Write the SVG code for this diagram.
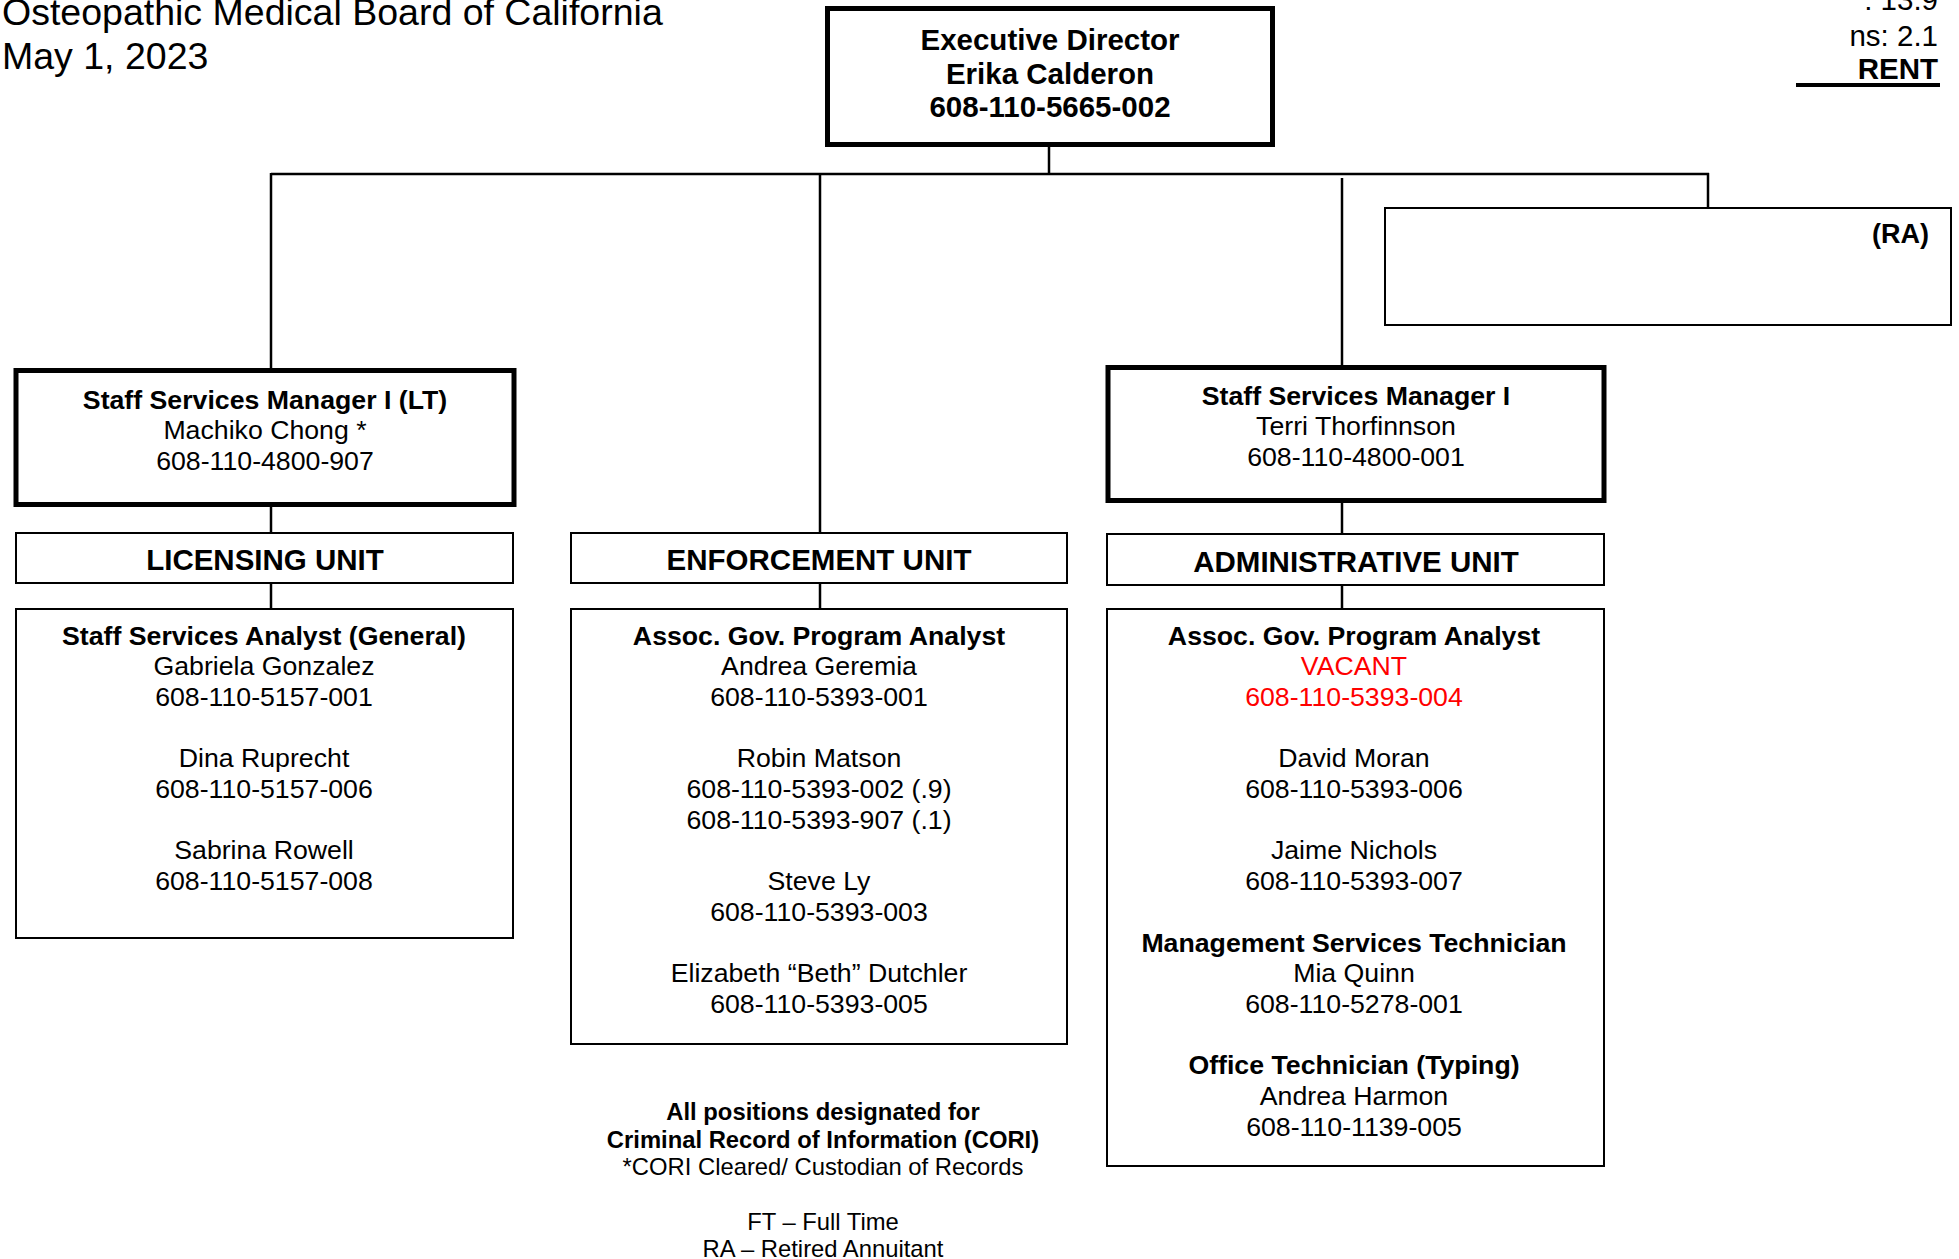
<svg xmlns="http://www.w3.org/2000/svg" width="1959" height="1259" viewBox="0 0 1959 1259">
<style>
text { font-family: "Liberation Sans", Arial, sans-serif; fill: #000; }
.b { font-weight: bold; }
.c { text-anchor: middle; }
.r { text-anchor: end; }
.red { fill: #ff0000; }
.thick { fill: #fff; stroke: #000; stroke-width: 5; }
.thin { fill: #fff; stroke: #000; stroke-width: 2; }
.f37 { font-size: 37.5px; }
.f29 { font-size: 29.5px; }
.f27 { font-size: 27px; }
.f26 { font-size: 26.7px; }
.f24 { font-size: 23.8px; }
#connectors line { stroke: #000; stroke-width: 2.5; }
</style>
<rect width="1959" height="1259" fill="#fff"/>

<g id="header">
  <text class="f37" x="2" y="25">Osteopathic Medical Board of California</text>
  <text class="f37" x="2" y="69">May 1, 2023</text>
  <text class="f29 r" x="1938" y="10">: 13.9</text>
  <text class="f29 r" x="1938" y="46">ns: 2.1</text>
  <text class="f29 b r" x="1938" y="79">RENT</text>
  <line x1="1796" y1="85" x2="1940" y2="85" stroke="#000" stroke-width="4"/>
</g>

<g id="connectors">
  <line x1="1049" y1="146" x2="1049" y2="175"/>
  <line x1="271" y1="174" x2="1709" y2="174"/>
  <line x1="271" y1="173" x2="271" y2="369"/>
  <line x1="820" y1="174" x2="820" y2="533"/>
  <line x1="1342" y1="178" x2="1342" y2="366"/>
  <line x1="1708" y1="173" x2="1708" y2="208"/>
  <line x1="271" y1="506" x2="271" y2="533"/>
  <line x1="271" y1="583" x2="271" y2="609"/>
  <line x1="820" y1="583" x2="820" y2="609"/>
  <line x1="1342" y1="502" x2="1342" y2="534"/>
  <line x1="1342" y1="585" x2="1342" y2="609"/>
</g>

<g id="executive-director">
  <rect class="thick" x="827.5" y="8.5" width="445" height="136"/>
  <text class="f29 b c" x="1050" y="50">Executive Director</text>
  <text class="f29 b c" x="1050" y="83.5">Erika Calderon</text>
  <text class="f29 b c" x="1050" y="116.5">608-110-5665-002</text>
</g>

<g id="ra-box">
  <rect class="thin" x="1385" y="208" width="566" height="117"/>
  <text class="f27 b r" x="1929" y="243">(RA)</text>
</g>

<g id="ssm-lt">
  <rect class="thick" x="16" y="370.5" width="498" height="134"/>
  <text class="f26 b c" x="265" y="408.5">Staff Services Manager I (LT)</text>
  <text class="f26 c" x="265" y="439">Machiko Chong *</text>
  <text class="f26 c" x="265" y="470">608-110-4800-907</text>
</g>

<g id="ssm-admin">
  <rect class="thick" x="1108" y="367.5" width="496" height="133"/>
  <text class="f26 b c" x="1356" y="404.5">Staff Services Manager I</text>
  <text class="f26 c" x="1356" y="435">Terri Thorfinnson</text>
  <text class="f26 c" x="1356" y="466">608-110-4800-001</text>
</g>

<g id="licensing-unit">
  <rect class="thin" x="16" y="533" width="497" height="50"/>
  <text class="f29 b c" x="265" y="570">LICENSING UNIT</text>
</g>

<g id="enforcement-unit">
  <rect class="thin" x="571" y="533" width="496" height="50"/>
  <text class="f29 b c" x="819" y="570">ENFORCEMENT UNIT</text>
</g>

<g id="administrative-unit">
  <rect class="thin" x="1107" y="534" width="497" height="51"/>
  <text class="f29 b c" x="1356" y="572">ADMINISTRATIVE UNIT</text>
</g>

<g id="licensing-staff">
  <rect class="thin" x="16" y="609" width="497" height="329"/>
  <text class="f26 b c" x="264" y="644.5">Staff Services Analyst (General)</text>
  <text class="f26 c" x="264" y="675.2">Gabriela Gonzalez</text>
  <text class="f26 c" x="264" y="705.9">608-110-5157-001</text>
  <text class="f26 c" x="264" y="767.3">Dina Ruprecht</text>
  <text class="f26 c" x="264" y="798">608-110-5157-006</text>
  <text class="f26 c" x="264" y="859.4">Sabrina Rowell</text>
  <text class="f26 c" x="264" y="890.1">608-110-5157-008</text>
</g>

<g id="enforcement-staff">
  <rect class="thin" x="571" y="609" width="496" height="435"/>
  <text class="f26 b c" x="819" y="644.5">Assoc. Gov. Program Analyst</text>
  <text class="f26 c" x="819" y="675.2">Andrea Geremia</text>
  <text class="f26 c" x="819" y="705.9">608-110-5393-001</text>
  <text class="f26 c" x="819" y="767.3">Robin Matson</text>
  <text class="f26 c" x="819" y="798">608-110-5393-002 (.9)</text>
  <text class="f26 c" x="819" y="828.7">608-110-5393-907 (.1)</text>
  <text class="f26 c" x="819" y="890.1">Steve Ly</text>
  <text class="f26 c" x="819" y="920.8">608-110-5393-003</text>
  <text class="f26 c" x="819" y="982.2">Elizabeth “Beth” Dutchler</text>
  <text class="f26 c" x="819" y="1012.9">608-110-5393-005</text>
</g>

<g id="administrative-staff">
  <rect class="thin" x="1107" y="609" width="497" height="557"/>
  <text class="f26 b c" x="1354" y="644.5">Assoc. Gov. Program Analyst</text>
  <text class="f26 c red" x="1354" y="675.2">VACANT</text>
  <text class="f26 c red" x="1354" y="705.9">608-110-5393-004</text>
  <text class="f26 c" x="1354" y="767.3">David Moran</text>
  <text class="f26 c" x="1354" y="798">608-110-5393-006</text>
  <text class="f26 c" x="1354" y="859.4">Jaime Nichols</text>
  <text class="f26 c" x="1354" y="890.1">608-110-5393-007</text>
  <text class="f26 b c" x="1354" y="951.5">Management Services Technician</text>
  <text class="f26 c" x="1354" y="982.2">Mia Quinn</text>
  <text class="f26 c" x="1354" y="1012.9">608-110-5278-001</text>
  <text class="f26 b c" x="1354" y="1074.3">Office Technician (Typing)</text>
  <text class="f26 c" x="1354" y="1105">Andrea Harmon</text>
  <text class="f26 c" x="1354" y="1135.7">608-110-1139-005</text>
</g>

<g id="notes">
  <text class="f24 b c" x="823" y="1119.5">All positions designated for</text>
  <text class="f24 b c" x="823" y="1147.5">Criminal Record of Information (CORI)</text>
  <text class="f24 c" x="823" y="1174.5">*CORI Cleared/ Custodian of Records</text>
  <text class="f24 c" x="823" y="1229.5">FT – Full Time</text>
  <text class="f24 c" x="823" y="1257">RA – Retired Annuitant</text>
</g>
</svg>
